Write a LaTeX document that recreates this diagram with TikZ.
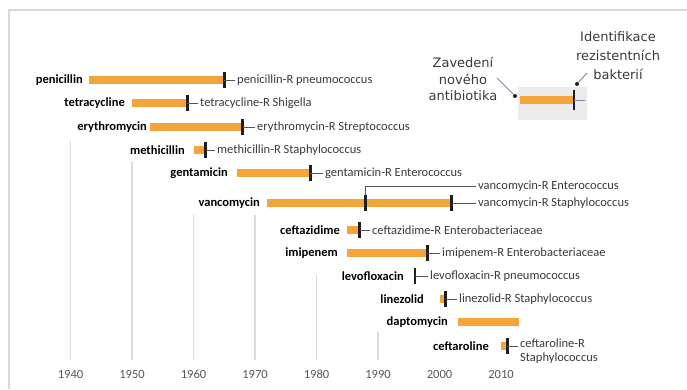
\documentclass[tikz,border=0pt]{standalone}
\usepackage{fontspec}
\setmainfont{Carlito}
\newfontfamily\legfont{DejaVu Sans}
\definecolor{barorange}{HTML}{F5A43A}
\definecolor{tickcol}{HTML}{1E1E1E}
\definecolor{gridgray}{HTML}{DCDCDC}
\definecolor{framegray}{HTML}{D8D8D8}
\definecolor{textgray}{HTML}{3A3A3A}
\definecolor{conngray}{HTML}{555555}
\definecolor{legline}{HTML}{8484B4}
\definecolor{legbox}{HTML}{EBEBEB}
\newcommand\Yr[1]{(70.5+(#1-1940)*6.15)}
\begin{document}
\begin{tikzpicture}[x=1pt,y=-1pt,
  bar/.style={fill=barorange, draw=none},
  tickmark/.style={draw=tickcol, line width=2.8pt},
  gridln/.style={draw=gridgray, line width=1.4pt},
  abname/.style={font=\bfseries\fontsize{12.5}{14}\selectfont, anchor=east, inner sep=0pt, text=black},
  restext/.style={font=\fontsize{12.5}{14}\selectfont, anchor=west, inner sep=0pt, text=textgray},
  yearlbl/.style={font=\fontsize{12.5}{14}\selectfont, inner sep=0pt, text=textgray!85},
  conn/.style={draw=conngray, line width=0.6pt, shorten >=2pt},
  legtext/.style={font=\legfont\fontsize{13}{16.5}\selectfont, align=center, inner sep=0pt, text=textgray},
  legconn/.style={draw=legline, line width=0.9pt},
  legdot/.style={circle, fill=tickcol, inner sep=0pt, minimum size=4pt},
]
\useasboundingbox (0,0) rectangle (687,389);
\fill[white] (0,0) rectangle (687,389);
% frame
\draw[draw=framegray, line width=2pt] (8.5,389) -- (8.5,10) -- (687,10);

% grid lines and years
\foreach \yy/\top in {1940/140,1950/162,1960/215,1970/215,1980/275,1990/332}{
  \draw[gridln] ({\Yr{\yy}},\top) -- ({\Yr{\yy}},360);
}
\foreach \yy in {1940,1950,1960,1970,1980,1990,2000,2010}{
  \node[yearlbl] (yr\yy) at ({\Yr{\yy}},374) {\yy};
}

% penicillin
\node[abname] (n1) at (83,80) {penicillin};
\fill[bar] ({\Yr{1943}},76) rectangle ({\Yr{1965}},84);
\coordinate (t1) at ({\Yr{1965}},80);
\draw[tickmark] ({\Yr{1965}},72) -- ({\Yr{1965}},88);
\node[restext] (r1) at (237,80) {penicillin-R pneumococcus};
\draw[conn] (t1) -- (r1.west);

% tetracycline
\node[abname] (n2) at (125,103) {tetracycline};
\fill[bar] ({\Yr{1950}},99) rectangle ({\Yr{1959}},107);
\coordinate (t2) at ({\Yr{1959}},103);
\draw[tickmark] ({\Yr{1959}},95) -- ({\Yr{1959}},111);
\node[restext] (r2) at (200,103) {tetracycline-R Shigella};
\draw[conn] (t2) -- (r2.west);

% erythromycin
\node[abname] (n3) at (147,127) {erythromycin};
\fill[bar] ({\Yr{1953}},123) rectangle ({\Yr{1968}},131);
\coordinate (t3) at ({\Yr{1968}},127);
\draw[tickmark] ({\Yr{1968}},119) -- ({\Yr{1968}},135);
\node[restext] (r3) at (257,127) {erythromycin-R Streptococcus};
\draw[conn] (t3) -- (r3.west);

% methicillin
\node[abname] (n4) at (185,150) {methicillin};
\fill[bar] ({\Yr{1960}},146) rectangle ({\Yr{1962}},154);
\coordinate (t4) at ({\Yr{1962}},150);
\draw[tickmark] ({\Yr{1962}},142) -- ({\Yr{1962}},158);
\node[restext] (r4) at (217,150) {methicillin-R Staphylococcus};
\draw[conn] (t4) -- (r4.west);

% gentamicin
\node[abname] (n5) at (228,173) {gentamicin};
\fill[bar] ({\Yr{1967}},169) rectangle ({\Yr{1979}},177);
\coordinate (t5) at ({\Yr{1979}},173);
\draw[tickmark] ({\Yr{1979}},165) -- ({\Yr{1979}},181);
\node[restext] (r5) at (325,173) {gentamicin-R Enterococcus};
\draw[conn] (t5) -- (r5.west);

% vancomycin
\node[abname] (n6) at (260,203) {vancomycin};
\fill[bar] ({\Yr{1972}},199) rectangle ({\Yr{2002}},207);
\coordinate (t6a) at ({\Yr{1988}},195);
\coordinate (t6b) at ({\Yr{2002}},203);
\draw[tickmark] ({\Yr{1988}},195) -- ({\Yr{1988}},211);
\draw[tickmark] ({\Yr{2002}},195) -- ({\Yr{2002}},211);
\node[restext] (r6a) at (478,186) {vancomycin-R Enterococcus};
\node[restext] (r6b) at (478,203) {vancomycin-R Staphylococcus};
\draw[conn] (t6a) |- (r6a.west);
\draw[conn] (t6b) -- (r6b.west);

% ceftazidime
\node[abname] (n7) at (340,230) {ceftazidime};
\fill[bar] ({\Yr{1985}},226) rectangle ({\Yr{1987}},234);
\coordinate (t7) at ({\Yr{1987}},230);
\draw[tickmark] ({\Yr{1987}},222) -- ({\Yr{1987}},238);
\node[restext] (r7) at (372,230) {ceftazidime-R Enterobacteriaceae};
\draw[conn] (t7) -- (r7.west);

% imipenem
\node[abname] (n8) at (338,253) {imipenem};
\fill[bar] ({\Yr{1985}},249) rectangle ({\Yr{1998}},257);
\coordinate (t8) at ({\Yr{1998}},253);
\draw[tickmark] ({\Yr{1998}},245) -- ({\Yr{1998}},261);
\node[restext] (r8) at (442,253) {imipenem-R Enterobacteriaceae};
\draw[conn] (t8) -- (r8.west);

% levofloxacin
\node[abname] (n9) at (404,276) {levofloxacin};
\coordinate (t9) at ({\Yr{1996}},276);
\draw[tickmark] ({\Yr{1996}},268) -- ({\Yr{1996}},284);
\node[restext] (r9) at (430,276) {levofloxacin-R pneumococcus};
\draw[conn] (t9) -- (r9.west);

% linezolid
\node[abname] (n10) at (424,299) {linezolid};
\fill[bar] ({\Yr{2000}},295) rectangle ({\Yr{2001}},303);
\coordinate (t10) at ({\Yr{2001}},299);
\draw[tickmark] ({\Yr{2001}},291) -- ({\Yr{2001}},307);
\node[restext] (r10) at (459,299) {linezolid-R Staphylococcus};
\draw[conn] (t10) -- (r10.west);

% daptomycin
\node[abname] (n11) at (448,322) {daptomycin};
\fill[bar] ({\Yr{2003}},318) rectangle ({\Yr{2013}},326);

% ceftaroline
\node[abname] (n12) at (489,346) {ceftaroline};
\fill[bar] ({\Yr{2010}},342) rectangle ({\Yr{2011}},350);
\coordinate (t12) at ({\Yr{2011}},346);
\draw[tickmark] ({\Yr{2011}},338) -- ({\Yr{2011}},354);
\node[restext, align=left, font=\fontsize{12.5}{14}\selectfont] (r12) at (520,351) {ceftaroline-R\\Staphylococcus};
\draw[conn] (t12) -- (t12 -| r12.west);

% legend
\fill[legbox] (518,87) rectangle (587,120);
\fill[bar] (520,96) rectangle (573,104);
\draw[tickmark] (574,90) -- (574,110);
\coordinate (lt) at (574,100);
\coordinate (lte) at (585,100);
\draw[draw=legline, line width=0.8pt] (lt) -- (lte);
\node[legtext] (lz) at (463,79) {Zavedení\\nového\\antibiotika};
\node[legtext, font=\legfont\fontsize{13}{19}\selectfont] (li) at (618,56) {Identifikace\\rezistentních\\bakterií};
\node[legdot] (ld1) at (515,96) {};
\node[legdot] (ld2) at (577,84) {};
\draw[legconn] (ld1) -- (497,78);
\draw[legconn] (ld2) -- (587,73);
\end{tikzpicture}
\end{document}
